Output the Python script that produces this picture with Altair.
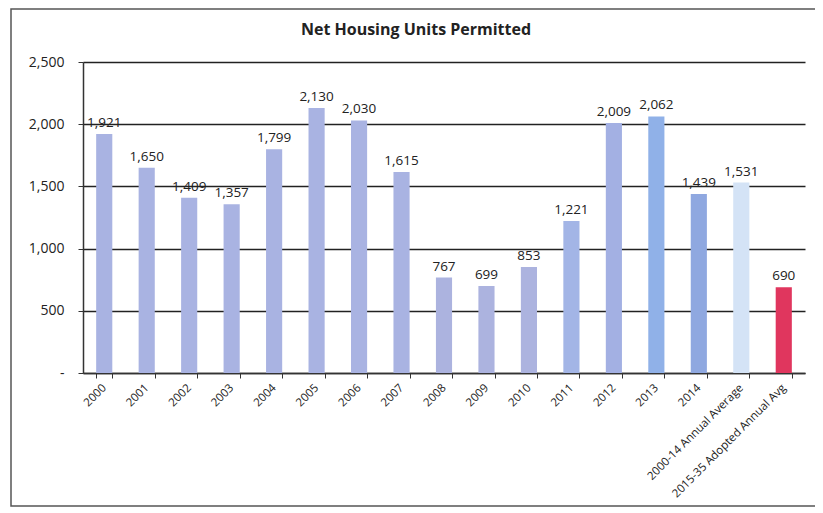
import altair as alt
import pandas as pd

categories = ["2000", "2001", "2002", "2003", "2004", "2005", "2006", "2007",
              "2008", "2009", "2010", "2011", "2012", "2013", "2014",
              "2000-14 Annual Average", "2015-35 Adopted Annual Avg"]
values = [1921, 1650, 1409, 1357, 1799, 2130, 2030, 1615,
          767, 699, 853, 1221, 2009, 2062, 1439, 1531, 690]
colors = ["#a9b3e2", "#a9b3e2", "#a9b3e2", "#a9b3e2", "#a9b3e2", "#a9b3e2",
          "#a9b3e2", "#a9b3e2", "#acb3df", "#acb3df", "#acb3df", "#a3b5e6",
          "#a3b0e3", "#90b1e8", "#8fa8e0", "#d4e3f6", "#e0365e"]
labels = ["{:,}".format(v) for v in values]
title_text = ["Net Housing Units Permitted"]

df = pd.DataFrame({"cat": categories, "val": values, "color": colors, "label": labels})

FONT = "Open Sans"

x = alt.X("cat:N", sort=categories, title=None,
          scale=alt.Scale(paddingInner=0.62, paddingOuter=0.31),
          axis=alt.Axis(labelAngle=-45, labelAlign="right", labelBaseline="middle",
                        labelFontSize=11.5, labelColor="#222", labelFont=FONT,
                        labelPadding=8, tickColor="#333", tickSize=5,
                        tickBand="extent", domainColor="#333", domainWidth=1.5,
                        labelLimit=200))
y = alt.Y("val:Q", title=None,
          scale=alt.Scale(domain=[0, 2500], nice=False),
          axis=alt.Axis(values=[0, 500, 1000, 1500, 2000, 2500],
                        labelExpr="datum.value == 0 ? '-' : format(datum.value, ',')",
                        labelFontSize=14, labelColor="#222", labelFont=FONT,
                        labelPadding=14, grid=True, gridColor="#222", gridWidth=1.5,
                        tickColor="#333", tickSize=5, domainColor="#333", domainWidth=1.5))

bars = alt.Chart(df).mark_bar().encode(x=x, y=y, color=alt.Color("color:N", scale=None))
text = alt.Chart(df).mark_text(dy=-11, fontSize=13.5, font=FONT, color="#222").encode(
    x=alt.X("cat:N", sort=categories), y="val:Q", text="label:N")

frame = alt.Chart(pd.DataFrame({"a": [0]})).mark_rect(
    fill=None, stroke="#555", strokeWidth=1.5, clip=False).encode(
    x=alt.value(-72), x2=alt.value(733), y=alt.value(-53), y2=alt.value(444))

title = alt.Chart(pd.DataFrame({"t": title_text})).mark_text(
    fontSize=16, font=FONT, fontWeight="bold", color="#222",
    align="center", baseline="middle", clip=False).encode(
    x=alt.value(333), y=alt.value(-32), text="t:N")

chart = alt.layer(frame, bars, text, title).properties(
    width=722, height=311,
    padding={"left": 75, "top": 54, "right": 10, "bottom": 136},
    autosize=alt.AutoSizeParams(type="none"),
).configure_view(stroke=None)

chart.save("out.html", embed_options={"renderer": "svg", "actions": False})
